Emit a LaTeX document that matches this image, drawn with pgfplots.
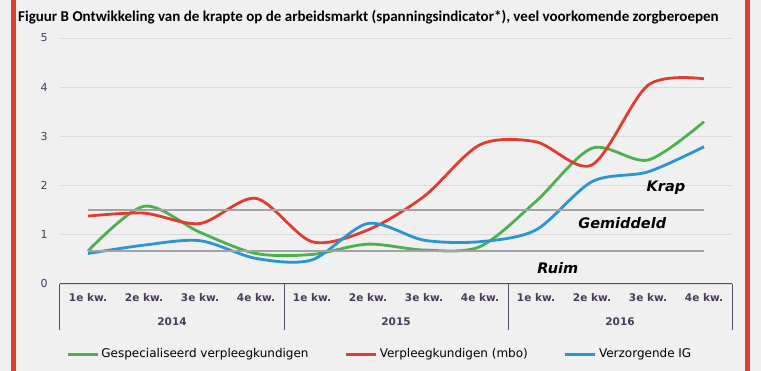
\documentclass[border=0pt]{standalone}
\usepackage{pgfplots}
\pgfplotsset{compat=1.18}
\usepackage{fontspec}
\setmainfont{DejaVu Sans}
\newfontfamily\titlefont{Carlito}
\definecolor{bgc}{HTML}{F0F0F0}
\definecolor{frame}{HTML}{E03C31}
\definecolor{cgreen}{HTML}{4CAF50}
\definecolor{cred}{HTML}{E03C31}
\definecolor{cblue}{HTML}{2B95D3}
\definecolor{refgrey}{HTML}{A3A3A3}
\definecolor{gridc}{HTML}{DADADA}
\definecolor{axc}{HTML}{5B4A6B}
\definecolor{tickc}{HTML}{4A3B5C}
\begin{document}
\begin{tikzpicture}[x=1pt,y=1pt]
\useasboundingbox (0,0) rectangle (761,371);
\fill[bgc] (0,0) rectangle (761,371);
\fill[frame] (11,0) rectangle (15.5,371);
\fill[frame] (745,0) rectangle (750,371);
\node[anchor=west,inner sep=0pt] at (18,354) {\titlefont\bfseries\fontsize{15}{17}\selectfont Figuur B Ontwikkeling van de krapte op de arbeidsmarkt (spanningsindicator*), veel voorkomende zorgberoepen};
\begin{axis}[
  at={(60pt,87pt)}, anchor=south west,
  scale only axis, width=672pt, height=246pt,
  xmin=-0.5, xmax=11.5, ymin=0, ymax=5,
  clip=false,
  axis line style={draw=none},
  ymajorgrids, grid style={gridc, line width=0.8pt},
  ytick={0,1,2,3,4,5},
  major tick length=0pt,
  xtick={0,...,11},
  xticklabels={1e kw.,2e kw.,3e kw.,4e kw.,1e kw.,2e kw.,3e kw.,4e kw.,1e kw.,2e kw.,3e kw.,4e kw.},
  xticklabel style={font=\bfseries\fontsize{10.5}{12}\selectfont, text=tickc, anchor=center, yshift=-14pt},
  yticklabel style={font=\fontsize{11}{12}\selectfont, text=tickc, anchor=center, xshift=-16pt},
  /pgf/number format/assume math mode=true,
  legend columns=3,
  legend style={at={(0.0045,-0.285)}, anchor=west, draw=none, fill=none,
    font=\fontsize{12}{14}\selectfont, text=black,
    /tikz/every even column/.append style={column sep=34pt}},
  legend cell align=left,
  legend image code/.code={\draw[#1, line width=3.2pt] (0pt,0pt) -- (30pt,0pt);},
]
\addplot[cgreen, line width=2.8pt, smooth, tension=0.5] coordinates {
 (0,0.67) (1,1.58) (2,1.05) (3,0.62) (4,0.60) (5,0.81) (6,0.69) (7,0.76) (8,1.68) (9,2.76) (10,2.52) (11,3.30)};
\addlegendentry{Gespecialiseerd verpleegkundigen}
\addplot[cred, line width=2.8pt, smooth, tension=0.5] coordinates {
 (0,1.38) (1,1.44) (2,1.23) (3,1.74) (4,0.86) (5,1.10) (6,1.78) (7,2.83) (8,2.89) (9,2.42) (10,4.04) (11,4.17)};
\addlegendentry{Verpleegkundigen (mbo)}
\addplot[cblue, line width=2.8pt, smooth, tension=0.5] coordinates {
 (0,0.62) (1,0.79) (2,0.88) (3,0.52) (4,0.49) (5,1.23) (6,0.89) (7,0.86) (8,1.10) (9,2.08) (10,2.28) (11,2.79)};
\addlegendentry{Verzorgende IG}
\addplot[refgrey, line width=1.5pt, forget plot] coordinates {(0,1.5) (11,1.5)};
\addplot[refgrey, line width=1.5pt, forget plot] coordinates {(0,0.67) (11,0.67)};
\draw[axc, line width=1pt] (axis cs:-0.5,0) -- (axis cs:11.5,0);
\pgfplotsinvokeforeach{-0.5,3.5,7.5,11.5}{
  \draw[axc, line width=1pt] (axis cs:#1,0) -- ([yshift=-46pt]axis cs:#1,0);
}
\node[font=\bfseries\fontsize{10.5}{12}\selectfont, text=tickc] at ([yshift=-38pt]axis cs:1.5,0) {2014};
\node[font=\bfseries\fontsize{10.5}{12}\selectfont, text=tickc] at ([yshift=-38pt]axis cs:5.5,0) {2015};
\node[font=\bfseries\fontsize{10.5}{12}\selectfont, text=tickc] at ([yshift=-38pt]axis cs:9.5,0) {2016};
\node[font=\bfseries\itshape\fontsize{14.5}{16}\selectfont] at (axis cs:10.32,1.95) {Krap};
\node[font=\bfseries\itshape\fontsize{14.5}{16}\selectfont] at (axis cs:9.54,1.24) {Gemiddeld};
\node[font=\bfseries\itshape\fontsize{14.5}{16}\selectfont] at (axis cs:8.39,0.33) {Ruim};
\end{axis}
\end{tikzpicture}
\end{document}
